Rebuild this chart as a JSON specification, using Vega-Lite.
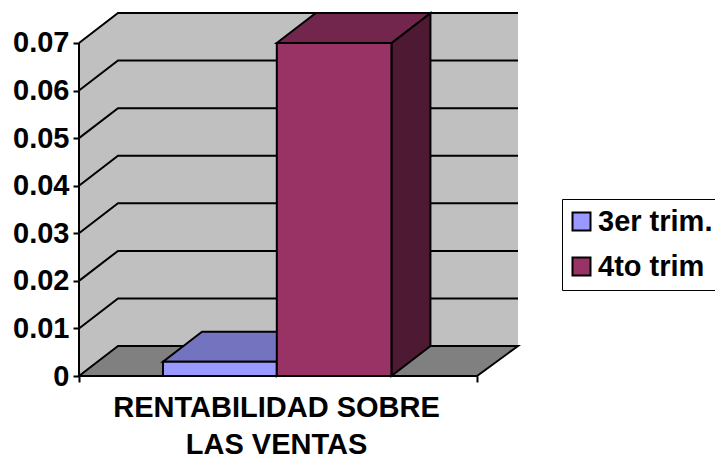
{
"$schema":"https://vega.github.io/schema/vega-lite/v6.json",
"width":439,"height":363,
"autosize":{"type":"none"},
"padding":{"left":79,"top":13,"right":197,"bottom":82},
"background":"white",
"config":{"view":{"stroke":null},"font":"Liberation Sans"},
"datasets":{
"barras":[{"trimestre":"3er trim.","valor":0.003,"inicio":0.211,"fin":0.497},{"trimestre":"4to trim","valor":0.07,"inicio":0.497,"fin":0.785}],
"lados":[{"trimestre":"3er trim.","x":0.497,"y":0,"y2":0.003},{"trimestre":"3er trim.","x":0.595,"y":0.0063,"y2":0.0093},{"trimestre":"4to trim","x":0.785,"y":0,"y2":0.07},{"trimestre":"4to trim","x":0.883,"y":0.0063,"y2":0.0763}],
"techos":[{"trimestre":"3er trim.","y":0.003,"x":0.211,"x2":0.497},{"trimestre":"3er trim.","y":0.0093,"x":0.309,"x2":0.595},{"trimestre":"4to trim","y":0.07,"x":0.497,"x2":0.785},{"trimestre":"4to trim","y":0.0763,"x":0.595,"x2":0.883}],
"pared":[{"x":0,"y":0,"y2":0.07},{"x":0.098,"y":0.0063,"y2":0.0763},{"x":1.103,"y":0.0063,"y2":0.0763}],
"piso":[{"y":0,"x":0,"x2":1},{"y":0.0063,"x":0.098,"x2":1.103}],
"rejilla":[
{"n":1,"o":1,"x":0,"y":0.01},{"n":1,"o":2,"x":0.098,"y":0.0163},{"n":1,"o":3,"x":1.103,"y":0.0163},
{"n":2,"o":1,"x":0,"y":0.02},{"n":2,"o":2,"x":0.098,"y":0.0263},{"n":2,"o":3,"x":1.103,"y":0.0263},
{"n":3,"o":1,"x":0,"y":0.03},{"n":3,"o":2,"x":0.098,"y":0.0363},{"n":3,"o":3,"x":1.103,"y":0.0363},
{"n":4,"o":1,"x":0,"y":0.04},{"n":4,"o":2,"x":0.098,"y":0.0463},{"n":4,"o":3,"x":1.103,"y":0.0463},
{"n":5,"o":1,"x":0,"y":0.05},{"n":5,"o":2,"x":0.098,"y":0.0563},{"n":5,"o":3,"x":1.103,"y":0.0563},
{"n":6,"o":1,"x":0,"y":0.06},{"n":6,"o":2,"x":0.098,"y":0.0663},{"n":6,"o":3,"x":1.103,"y":0.0663},
{"n":7,"o":1,"x":0,"y":0.07},{"n":7,"o":2,"x":0.098,"y":0.0763},{"n":7,"o":3,"x":1.103,"y":0.0763}
]
},
"layer":[
{"data":{"name":"pared"},
 "mark":{"type":"area","orient":"vertical","fill":"#C0C0C0","stroke":null,"clip":false},
 "encoding":{
  "x":{"field":"x","type":"quantitative","scale":{"domain":[0,1.103],"nice":false,"zero":false},
   "axis":{"values":[0,1],"domain":false,"grid":false,"labels":false,"tickColor":"black","tickWidth":2,"tickSize":6,
    "title":["RENTABILIDAD SOBRE","LAS VENTAS"],"titleFont":"Liberation Sans","titleFontWeight":"bold","titleFontSize":29,"titleColor":"black","titleLineHeight":37,"titleX":197,"titleY":40,"titleAlign":"center","titleBaseline":"alphabetic"}},
  "y":{"field":"y","type":"quantitative","scale":{"domain":[0,0.0763],"nice":false,"zero":false},
   "axis":{"values":[0,0.01,0.02,0.03,0.04,0.05,0.06,0.07],"format":".2~f","domain":false,"grid":false,"title":null,"tickColor":"black","tickWidth":2,"tickSize":6,"labelFont":"Liberation Sans","labelFontWeight":"bold","labelFontSize":29,"labelColor":"black","labelPadding":4}},
  "y2":{"field":"y2"}}},
{"data":{"name":"rejilla"},
 "mark":{"type":"line","stroke":"black","strokeWidth":2,"strokeJoin":"miter","clip":false},
 "encoding":{
  "x":{"field":"x","type":"quantitative","scale":{"domain":[0,1.103],"nice":false,"zero":false}},
  "y":{"field":"y","type":"quantitative","scale":{"domain":[0,0.0763],"nice":false,"zero":false}},
  "detail":{"field":"n"},"order":{"field":"o"}}},
{"mark":{"type":"rule","stroke":"black","strokeWidth":2},
 "data":{"values":[{"x":0,"y":0,"y2":0.07}]},
 "encoding":{
  "x":{"field":"x","type":"quantitative","scale":{"domain":[0,1.103],"nice":false,"zero":false}},
  "y":{"field":"y","type":"quantitative","scale":{"domain":[0,0.0763],"nice":false,"zero":false}},
  "y2":{"field":"y2"}}},
{"data":{"name":"piso"},
 "mark":{"type":"area","orient":"horizontal","fill":"#808080","stroke":"black","strokeWidth":2},
 "encoding":{
  "y":{"field":"y","type":"quantitative","scale":{"domain":[0,0.0763],"nice":false,"zero":false}},
  "x":{"field":"x","type":"quantitative","scale":{"domain":[0,1.103],"nice":false,"zero":false}},
  "x2":{"field":"x2"}}},
{"data":{"name":"lados"},"transform":[{"filter":"datum.trimestre === '3er trim.'"}],
 "mark":{"type":"area","orient":"vertical","fill":"#4D4D80","stroke":"black","strokeWidth":2},
 "encoding":{
  "x":{"field":"x","type":"quantitative","scale":{"domain":[0,1.103],"nice":false,"zero":false}},
  "y":{"field":"y","type":"quantitative","scale":{"domain":[0,0.0763],"nice":false,"zero":false}},
  "y2":{"field":"y2"}}},
{"data":{"name":"techos"},"transform":[{"filter":"datum.trimestre === '3er trim.'"}],
 "mark":{"type":"area","orient":"horizontal","fill":"#7373BF","stroke":"black","strokeWidth":2},
 "encoding":{
  "y":{"field":"y","type":"quantitative","scale":{"domain":[0,0.0763],"nice":false,"zero":false}},
  "x":{"field":"x","type":"quantitative","scale":{"domain":[0,1.103],"nice":false,"zero":false}},
  "x2":{"field":"x2"}}},
{"data":{"name":"lados"},"transform":[{"filter":"datum.trimestre === '4to trim'"}],
 "mark":{"type":"area","orient":"vertical","fill":"#4D1933","stroke":"black","strokeWidth":2},
 "encoding":{
  "x":{"field":"x","type":"quantitative","scale":{"domain":[0,1.103],"nice":false,"zero":false}},
  "y":{"field":"y","type":"quantitative","scale":{"domain":[0,0.0763],"nice":false,"zero":false}},
  "y2":{"field":"y2"}}},
{"data":{"name":"techos"},"transform":[{"filter":"datum.trimestre === '4to trim'"}],
 "mark":{"type":"area","orient":"horizontal","fill":"#73264D","stroke":"black","strokeWidth":2},
 "encoding":{
  "y":{"field":"y","type":"quantitative","scale":{"domain":[0,0.0763],"nice":false,"zero":false}},
  "x":{"field":"x","type":"quantitative","scale":{"domain":[0,1.103],"nice":false,"zero":false}},
  "x2":{"field":"x2"}}},
{"data":{"name":"barras"},
 "mark":{"type":"rect","stroke":"black","strokeWidth":2},
 "encoding":{
  "x":{"field":"inicio","type":"quantitative","scale":{"domain":[0,1.103],"nice":false,"zero":false}},
  "x2":{"field":"fin"},
  "y":{"field":"valor","type":"quantitative","scale":{"domain":[0,0.0763],"nice":false,"zero":false}},
  "y2":{"datum":0},
  "fill":{"field":"trimestre","type":"nominal","scale":{"domain":["3er trim.","4to trim"],"range":["#9999FF","#993366"]},
   "legend":{"orient":"none","legendX":483,"legendY":186,"title":null,"padding":8,"strokeColor":"black","fillColor":"white","symbolType":"square","symbolSize":324,"symbolStrokeColor":"black","symbolStrokeWidth":2,"symbolOpacity":1,"symbolOffset":-3,"labelFont":"Liberation Sans","labelFontWeight":"bold","labelFontSize":29,"labelColor":"black","labelOffset":2,"labelLimit":300,"rowPadding":15}}}}
]
}
